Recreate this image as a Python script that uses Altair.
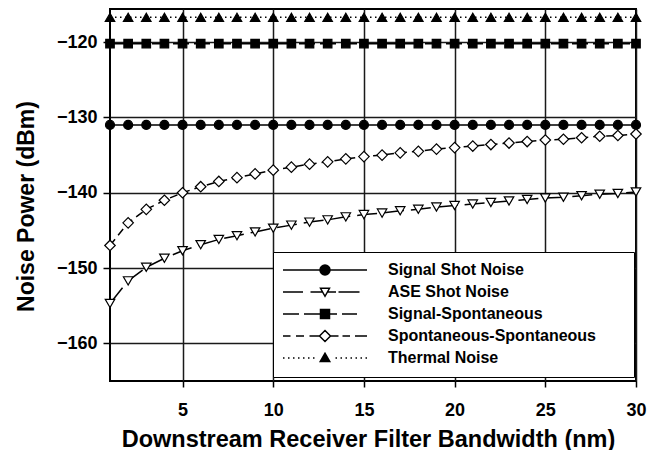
import altair as alt
import pandas as pd

# ---------------- data ----------------
bandwidth = [1, 2, 3, 4, 5, 6, 7, 8, 9, 10, 11, 12, 13, 14, 15,
             16, 17, 18, 19, 20, 21, 22, 23, 24, 25, 26, 27, 28, 29, 30]

signal_shot = [-131.0, -131.0, -131.0, -131.0, -131.0, -131.0, -131.0, -131.0, -131.0, -131.0,
               -131.0, -131.0, -131.0, -131.0, -131.0, -131.0, -131.0, -131.0, -131.0, -131.0,
               -131.0, -131.0, -131.0, -131.0, -131.0, -131.0, -131.0, -131.0, -131.0, -131.0]

ase_shot = [-154.7, -151.7, -149.9, -148.7, -147.7, -146.9, -146.2, -145.7, -145.2, -144.7,
            -144.3, -143.9, -143.6, -143.2, -142.9, -142.7, -142.4, -142.2, -141.9, -141.7,
            -141.5, -141.3, -141.1, -140.9, -140.7, -140.6, -140.4, -140.2, -140.1, -139.9]

signal_spont = [-120.2, -120.2, -120.2, -120.2, -120.2, -120.2, -120.2, -120.2, -120.2, -120.2,
                -120.2, -120.2, -120.2, -120.2, -120.2, -120.2, -120.2, -120.2, -120.2, -120.2,
                -120.2, -120.2, -120.2, -120.2, -120.2, -120.2, -120.2, -120.2, -120.2, -120.2]

spont_spont = [-147.0, -144.0, -142.2, -141.0, -140.0, -139.2, -138.5, -138.0, -137.5, -137.0,
               -136.6, -136.2, -135.9, -135.5, -135.2, -135.0, -134.7, -134.5, -134.2, -134.0,
               -133.8, -133.6, -133.4, -133.2, -133.0, -132.9, -132.7, -132.5, -132.4, -132.2]

thermal = [-116.7, -116.7, -116.7, -116.7, -116.7, -116.7, -116.7, -116.7, -116.7, -116.7,
           -116.7, -116.7, -116.7, -116.7, -116.7, -116.7, -116.7, -116.7, -116.7, -116.7,
           -116.7, -116.7, -116.7, -116.7, -116.7, -116.7, -116.7, -116.7, -116.7, -116.7]

series_names = ["Signal Shot Noise", "ASE Shot Noise", "Signal-Spontaneous",
                "Spontaneous-Spontaneous", "Thermal Noise"]
series_values = [signal_shot, ase_shot, signal_spont, spont_spont, thermal]

x_ticks = [5, 10, 15, 20, 25, 30]
y_ticks = [-160, -150, -140, -130, -120]

rows = []
for name, vals in zip(series_names, series_values):
    for b, v in zip(bandwidth, vals):
        rows.append({"bw": b, "power": v, "series": name})
df = pd.DataFrame(rows)

# ---------------- styles ----------------
FONT = "Liberation Sans"
dashes = [[1, 0], [20, 7], [16, 5], [8, 5], [1.5, 3.5]]
marker_shapes = ["circle", "triangle-down", "square", "diamond", "triangle-up"]
marker_fills = ["black", "white", "black", "white", "black"]
marker_sizes = [81, 90, 72, 110, 90]

# Legend symbols: line pattern + marker drawn as one custom path (1 unit = 5 px).
# Filled markers are hatched densely so they read as solid; lone "M" points only
# extend the symbol bounds (row height / legend box width).
ROW = "M0,-1.48M0,1.1"
circle_fill = ("M-1,0A1,1,0,1,1,1,0A1,1,0,1,1,-1,0Z"
               "M-0.66,-0.75L0.66,-0.75M-0.89,-0.45L0.89,-0.45M-0.99,-0.15L0.99,-0.15"
               "M-0.99,0.15L0.99,0.15M-0.89,0.45L0.89,0.45M-0.66,0.75L0.66,0.75")
square_fill = ("M-0.9,-0.9L0.9,-0.9L0.9,0.9L-0.9,0.9Z"
               "M-0.9,-0.6L0.9,-0.6M-0.9,-0.3L0.9,-0.3M-0.9,0L0.9,0"
               "M-0.9,0.3L0.9,0.3M-0.9,0.6L0.9,0.6")
tri_up_fill = ("M-0.95,0.7L0.95,0.7L0,-0.95Z"
               "M-0.86,0.55L0.86,0.55M-0.69,0.25L0.69,0.25M-0.52,-0.05L0.52,-0.05"
               "M-0.35,-0.35L0.35,-0.35M-0.17,-0.65L0.17,-0.65")
legend_paths = [
    "M-8.4,0L8.4,0" + circle_fill + ROW + "M59.2,0",
    "M-8.4,0L-4.4,0M-2.9,0L-0.6,0M0.6,0L2.2,0M2.7,0L6.9,0"
    "M-0.9,-0.75L0.9,-0.75L0,0.85Z" + ROW,
    "M-8.4,0L-5.2,0M-4.2,0L-0.9,0M0.9,0L2.4,0M3.4,0L6.4,0" + square_fill + ROW,
    "M-8.4,0L-6.9,0M-5.8,0L-4.2,0M-3.1,0L-1.1,0M1.1,0L2.7,0M3.5,0L5,0M6,0L8.4,0"
    "M0,-1.1L1.1,0L0,1.1L-1.1,0Z" + ROW,
    "M-8.4,0L-8.1,0M-7.4,0L-7.1,0M-6.4,0L-6.1,0M-5.4,0L-5.1,0M-4.4,0L-4.1,0M-3.4,0L-3.1,0"
    "M-2.4,0L-2.1,0M2.1,0L2.4,0M3.1,0L3.4,0M4.1,0L4.4,0M5.1,0L5.4,0M6.1,0L6.4,0M7.1,0L7.4,0"
    "M8.1,0L8.4,0" + tri_up_fill + ROW,
]

x_enc = alt.X(
    "bw:Q",
    scale=alt.Scale(domain=[1, 30], nice=False, zero=False),
    axis=alt.Axis(
        values=x_ticks, title="Downstream Receiver Filter Bandwidth (nm)",
        grid=True, gridColor="#1a1a1a", gridWidth=1.5, domain=False,
        tickSize=6, tickWidth=1.5, tickColor="black",
        labelFont=FONT, labelFontSize=18, labelFontWeight="bold", labelColor="black",
        labelBaseline="alphabetic", labelPadding=28, labelAngle=0,
        labelFlush=False, labelOverlap=False,
        titleFont=FONT, titleFontSize=23.5, titleFontWeight="bold", titleColor="black",
        titleBaseline="alphabetic", titleAlign="center", titleX=258, titleY=65,
    ),
)
y_enc = alt.Y(
    "power:Q",
    scale=alt.Scale(domain=[-165, -115.6], nice=False, zero=False),
    axis=alt.Axis(
        values=y_ticks, title="Noise Power (dBm)",
        grid=True, gridColor="#1a1a1a", gridWidth=1.5, domain=False,
        tickSize=7, tickWidth=1.5, tickColor="black",
        labelFont=FONT, labelFontSize=18, labelFontWeight="bold", labelColor="black",
        labelAlign="right", labelBaseline="middle", labelPadding=6,
        labelOverlap=False,
        titleFont=FONT, titleFontSize=23, titleFontWeight="bold", titleColor="black",
        titleAngle=270, titleBaseline="alphabetic", titleAlign="center",
        titleX=-77, titleY=197,
    ),
)

line_layers = []
point_layers = []
for name, dash, shp, fil, sz in zip(series_names, dashes, marker_shapes, marker_fills,
                                    marker_sizes):
    line_layers.append(
        alt.Chart(df).transform_filter(alt.datum.series == name).mark_line(
            color="black", strokeWidth=1.5, strokeDash=dash,
        ).encode(x=x_enc, y=y_enc)
    )
    point_layers.append(
        alt.Chart(df).transform_filter(alt.datum.series == name).mark_point(
            shape=shp, filled=True, fill=fil, stroke="black", strokeWidth=1.2,
            size=sz, opacity=1,
        ).encode(x=x_enc, y=y_enc)
    )

legend_def = alt.Legend(
    title=None, orient="none", legendX=163, legendY=243,
    fillColor="white", strokeColor="black", padding=10,
    symbolSize=100, symbolStrokeWidth=1.5, symbolStrokeColor="black",
    symbolOpacity=1, symbolOffset=34, labelOffset=55,
    labelFont=FONT, labelFontSize=16, labelFontWeight="bold", labelColor="black",
    labelLimit=300,
)

# invisible layer that only carries the legend
legend_layer = alt.Chart(df).mark_point(opacity=0, stroke="black").encode(
    x=x_enc, y=y_enc,
    shape=alt.Shape("series:N", scale=alt.Scale(domain=series_names, range=legend_paths),
                    legend=legend_def),
)

chart = alt.layer(*line_layers, *point_layers, legend_layer).properties(
    width=526, height=372,
    padding={"left": 102, "top": 1, "right": 13, "bottom": 69},
    autosize=alt.AutoSizeParams(type="none"),
).configure(background="white").configure_view(stroke="black", strokeWidth=2)

chart.save("out.html", embed_options={"renderer": "svg", "actions": False})
